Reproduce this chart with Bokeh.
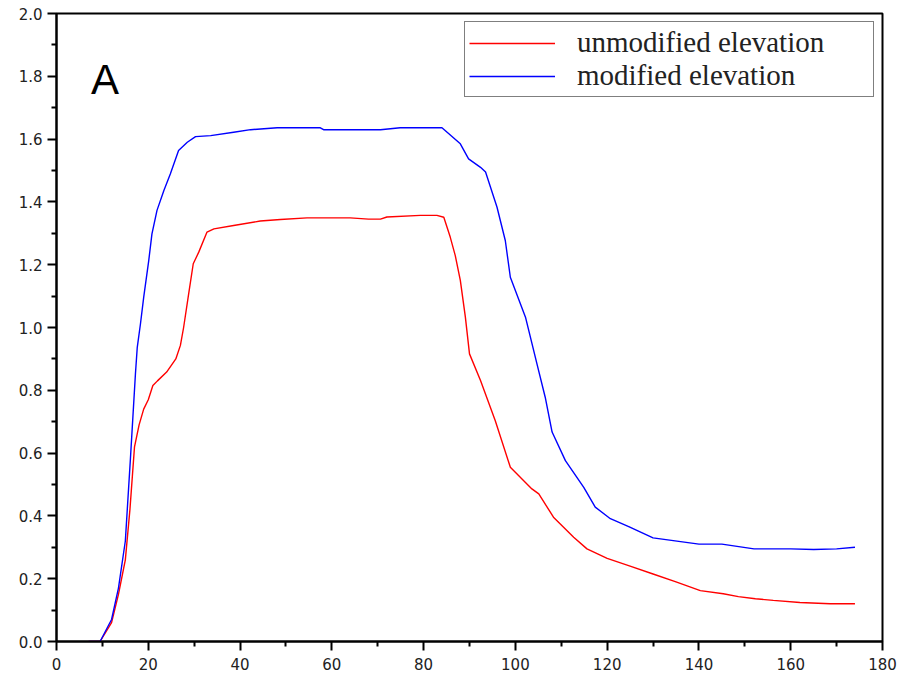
from bokeh.plotting import figure
from bokeh.models import Range1d, FixedTicker, Legend, LegendItem, Label, CustomJSTickFormatter
from bokeh.embed import file_html
from bokeh.resources import INLINE

# ---- data ----
red_x = [7, 9.5, 12, 13.5, 15, 16, 17, 18, 19, 20, 21, 22, 24, 26, 27, 27.7, 28.8, 29.8, 31, 32.8,
         34.3, 38.6, 44.4, 48.8, 54.6, 64, 68, 70.6, 72, 79.3, 82.9, 84.4, 85.8, 86.9, 88, 89.1,
         90, 92.4, 95.6, 98.9, 103.6, 105.1, 108.3, 112.7, 115.6, 120, 125, 130, 135, 140.3,
         145.3, 148.6, 152.3, 156.2, 162, 168.6, 174]
red_y = [0, 0, 0.06, 0.15, 0.26, 0.42, 0.62, 0.69, 0.74, 0.77, 0.815, 0.83, 0.858, 0.90, 0.943,
         1.0, 1.107, 1.203, 1.24, 1.304, 1.314, 1.325, 1.339, 1.344, 1.349, 1.349, 1.345, 1.345,
         1.352, 1.357, 1.357, 1.351, 1.288, 1.229, 1.15, 1.033, 0.916, 0.831, 0.704, 0.555,
         0.486, 0.47, 0.396, 0.332, 0.295, 0.265, 0.24, 0.215, 0.19, 0.162, 0.152, 0.143,
         0.136, 0.131, 0.124, 0.12, 0.12]

blue_x = [7, 9.5, 12, 13.5, 15, 16.1, 17.2, 17.6, 18.3, 19, 20.1, 20.8, 21.9, 23.4, 24.8, 26.6,
          28.5, 30.3, 33.6, 38.6, 42.3, 48.1, 57.5, 58.2, 70.6, 74.9, 84, 88, 89.8, 92.4, 93.5,
          96, 97.8, 98.9, 102.2, 104.7, 106.5, 108, 110.9, 114.9, 117.4, 120.7, 124.7, 130,
          140, 145, 152, 160, 165, 170, 174]
blue_y = [0, 0, 0.07, 0.17, 0.32, 0.58, 0.852, 0.937, 1.012, 1.096, 1.213, 1.298, 1.373, 1.436,
          1.489, 1.564, 1.59, 1.608, 1.611, 1.622, 1.63, 1.636, 1.636, 1.63, 1.63, 1.636, 1.636,
          1.585, 1.537, 1.51, 1.495, 1.383, 1.277, 1.16, 1.033, 0.884, 0.778, 0.667, 0.576,
          0.491, 0.428, 0.391, 0.366, 0.33, 0.31, 0.31, 0.295, 0.295, 0.293, 0.295, 0.30]

x_major = [0, 20, 40, 60, 80, 100, 120, 140, 160, 180]
x_minor = [10, 30, 50, 70, 90, 110, 130, 150, 170]
y_major = [0.0, 0.2, 0.4, 0.6, 0.8, 1.0, 1.2, 1.4, 1.6, 1.8, 2.0]
y_minor = [0.1, 0.3, 0.5, 0.7, 0.9, 1.1, 1.3, 1.5, 1.7, 1.9]

labels = ["unmodified elevation", "modified elevation"]
panel_label = "A"

p = figure(width=902, height=675, output_backend="svg", toolbar_location=None,
           x_range=Range1d(0, 180), y_range=Range1d(0, 2.0),
           min_border_left=56, min_border_right=20, min_border_top=13, min_border_bottom=34)

p.background_fill_color = "white"
p.border_fill_color = "white"
p.xgrid.visible = False
p.ygrid.visible = False
p.outline_line_color = "black"
p.outline_line_width = 2
p.outline_line_alpha = 1

p.xaxis.ticker = FixedTicker(ticks=x_major, minor_ticks=x_minor)
p.yaxis.ticker = FixedTicker(ticks=y_major, minor_ticks=y_minor)
p.yaxis.formatter = CustomJSTickFormatter(code="return tick.toFixed(1);")

for ax in (p.xaxis, p.yaxis):
    ax.axis_line_color = "black"
    ax.axis_line_width = 2
    ax.major_tick_line_color = "black"
    ax.major_tick_line_width = 2
    ax.minor_tick_line_color = "black"
    ax.minor_tick_line_width = 2
    ax.major_tick_in = 0
    ax.minor_tick_in = 0
    ax.major_tick_out = 9
    ax.minor_tick_out = 5
    ax.major_label_text_font = "DejaVu Sans"
    ax.major_label_text_font_size = "15px"
    ax.major_label_text_color = "#222222"

p.xaxis.major_label_standoff = 7
p.yaxis.major_label_standoff = 5

r1 = p.line(red_x, red_y, line_color="#ff0000", line_width=1.4)
r2 = p.line(blue_x, blue_y, line_color="#0000ff", line_width=1.4)

legend = Legend(items=[LegendItem(label=labels[0], renderers=[r1]),
                       LegendItem(label=labels[1], renderers=[r2])],
                location="top_right", margin=8, padding=4, spacing=0,
                glyph_width=86, glyph_height=28, label_height=28, label_width=292,
                label_standoff=22,
                label_text_font="Liberation Serif", label_text_font_size="29px",
                label_text_color="#222222", label_text_line_height=1.0,
                border_line_color="black", border_line_width=1.5,
                background_fill_color="white", background_fill_alpha=1)
p.add_layout(legend)

p.add_layout(Label(x=7.5, y=1.79, text=panel_label, text_font="Liberation Sans",
                   text_font_size="42px", text_color="black", text_baseline="alphabetic"))

open("out.html", "w").write(file_html(p, INLINE))
